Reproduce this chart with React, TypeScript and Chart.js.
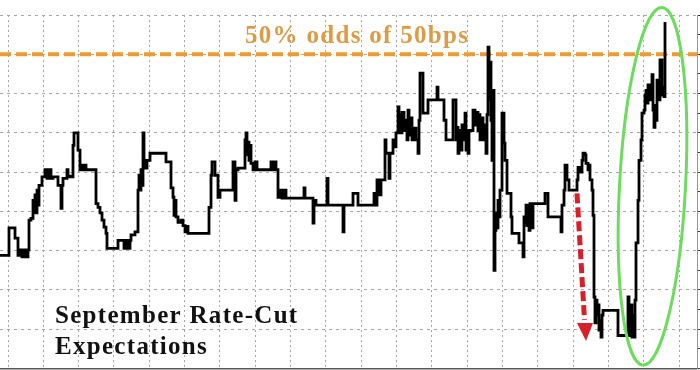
import React, { useEffect, useRef } from "react";
import { Chart, registerables } from "chart.js";

Chart.register(...registerables);

// observation index (intraday samples) at which the odds change
const obs = [
  0, 9, 15, 18, 20, 22, 24, 26, 28, 29, 31, 33, 34, 35, 36, 37, 38, 39, 42, 45,
  47, 49, 51, 53, 58, 61, 62, 63, 67, 68, 70, 73, 74, 77, 78, 80, 82, 84, 85, 86,
  96, 98, 100, 102, 104, 106, 107, 118, 124, 126, 128, 130, 131, 135, 138, 139, 140, 141, 142, 143,
  144, 145, 147, 150, 166, 171, 173, 174, 175, 176, 178, 181, 183, 185, 186, 188, 209, 211, 212, 215,
  218, 220, 233, 235, 236, 238, 245, 246, 247, 248, 249, 250, 251, 253, 255, 257, 271, 273, 274, 276,
  278, 280, 282, 284, 286, 304, 305, 313, 314, 316, 327, 328, 343, 344, 353, 358, 374, 375, 377, 379,
  381, 385, 386, 389, 390, 393, 395, 396, 398, 399, 400, 401, 402, 404, 405, 407, 408, 409, 410, 412,
  414, 416, 418, 419, 420, 423, 428, 437, 438, 444, 446, 453, 456, 457, 458, 459, 461, 462, 463, 465,
  466, 467, 468, 469, 473, 475, 476, 478, 479, 480, 481, 483, 484, 486, 487, 488, 489, 490, 491, 492,
  493, 494, 495, 496, 497, 498, 499, 500, 502, 504, 505, 507, 511, 512, 519, 523, 524, 525, 526, 527,
  528, 529, 530, 532, 533, 545, 548, 561, 562, 564, 565, 567, 569, 577, 578, 580, 582, 583, 585, 586,
  588, 589, 590, 592, 593, 594, 595, 596, 597, 598, 599, 600, 601, 602, 603, 618, 628, 629, 630, 631,
  632, 633, 634, 635, 636, 638, 639, 641, 642, 644, 645, 646, 647, 648, 650, 651, 652, 653, 654, 655,
  656, 657, 659, 660, 662, 663, 664, 665,
];

// odds (%) of a 50bp September cut
const odds = [
  24.4, 27.9, 26.6, 24.4, 25.1, 24.2, 25.1, 24.2, 25.1, 28.9, 29.1, 31.4, 29.9, 32.1, 29.8, 32.7, 30.8, 33.3, 34.4, 35.3,
  34.2, 35.3, 34.2, 34.4, 33.3, 30.4, 33.3, 34.2, 35.3, 34.5, 34.4, 38.4, 40.0, 40.0, 37.8, 35.3, 35.9, 35.3, 35.9, 35.3,
  31.0, 30.5, 29.8, 28.9, 28.0, 27.2, 25.3, 26.3, 25.3, 26.3, 25.3, 26.3, 27.0, 27.4, 32.7, 34.6, 32.7, 35.3, 33.3, 40.0,
  36.5, 35.5, 36.5, 37.4, 36.3, 33.0, 31.8, 29.5, 31.4, 29.3, 28.6, 28.9, 28.2, 27.4, 28.1, 27.2, 30.5, 34.6, 36.3, 34.6,
  31.8, 32.7, 36.3, 31.4, 35.3, 35.5, 39.1, 40.0, 37.2, 38.8, 36.5, 38.4, 36.1, 35.3, 36.3, 35.3, 36.3, 35.3, 36.3, 35.3,
  31.8, 32.7, 31.7, 32.7, 31.7, 33.0, 31.7, 28.5, 31.4, 30.8, 34.2, 30.8, 27.4, 30.8, 32.3, 30.8, 32.3, 30.8, 34.0, 32.1,
  34.0, 39.1, 37.4, 34.2, 37.4, 39.1, 38.2, 40.0, 43.3, 40.0, 42.3, 40.0, 42.6, 40.3, 41.6, 39.1, 42.9, 39.7, 41.9, 39.1,
  40.6, 39.1, 37.4, 41.6, 47.6, 42.5, 44.2, 45.8, 44.2, 41.6, 39.1, 44.2, 39.1, 40.7, 37.4, 40.3, 37.8, 41.0, 39.1, 42.5,
  37.8, 40.3, 37.4, 40.3, 42.9, 41.0, 42.6, 40.3, 42.3, 39.1, 41.9, 39.1, 41.0, 37.4, 42.3, 50.9, 44.2, 49.0, 41.6, 36.5,
  45.4, 22.5, 27.6, 29.8, 27.9, 31.4, 29.3, 32.7, 42.5, 38.7, 36.5, 32.3, 29.3, 27.2, 26.0, 24.2, 29.3, 28.5, 30.8, 28.2,
  30.8, 27.6, 31.0, 27.9, 31.0, 32.3, 29.3, 27.4, 30.8, 32.7, 35.9, 34.0, 32.7, 34.0, 35.6, 35.0, 36.5, 37.4, 37.2, 36.1,
  35.3, 35.9, 34.0, 32.7, 29.5, 19.1, 15.8, 18.7, 16.8, 18.1, 14.9, 16.1, 14.0, 16.8, 17.4, 14.2, 19.1, 16.1, 14.2, 18.1,
  14.0, 16.8, 14.0, 18.7, 26.0, 31.4, 36.5, 39.1, 42.5, 42.9, 44.8, 45.4, 43.8, 46.1, 44.2, 45.4, 47.4, 42.9, 40.7, 43.5,
  41.6, 46.7, 44.2, 49.3, 44.8, 45.8, 44.6, 54.1,
];

const thresholdLevel = 50;
const thresholdLabel = "50% odds of 50bps";
const titleLines = ["September Rate-Cut", "Expectations"];
const yMin = 10;
const yMax = 55;
const yStep = 5;
const obsMin = 0;
const obsMax = 697;
const obsGridStart = 8;
const obsGridStep = 35.33;
const obsGridCount = 20;

export default function App() {
  const ref = useRef<HTMLCanvasElement>(null);

  useEffect(() => {
    document.body.style.margin = "0";
    const canvas = ref.current;
    if (!canvas) return;

    const annotations = {
      id: "annotations",
      afterDatasetsDraw(chart: any) {
        const { ctx } = chart;
        const xs = chart.scales.x;
        const ys = chart.scales.y;
        const px = (v: number) => xs.getPixelForValue(v);
        const py = (v: number) => ys.getPixelForValue(v);
        ctx.save();

        // label of threshold
        ctx.font = 'bold 25px "Liberation Serif"';
        (ctx as any).letterSpacing = "1.3px";
        ctx.fillStyle = "#dd9b45";
        ctx.textBaseline = "alphabetic";
        ctx.textAlign = "left";
        ctx.fillText(thresholdLabel, px(245), py(51.4));

        // title
        ctx.fillStyle = "#111111";
        ctx.fillText(titleLines[0], px(55), py(15.8));
        ctx.fillText(titleLines[1], px(55), py(11.8));
        (ctx as any).letterSpacing = "0px";

        // red dashed arrow
        ctx.strokeStyle = "#d7202a";
        ctx.fillStyle = "#d7202a";
        ctx.lineWidth = 5;
        ctx.setLineDash([10, 4]);
        ctx.beginPath();
        ctx.moveTo(px(577), py(32.3));
        ctx.lineTo(px(584.5), py(16.2));
        ctx.stroke();
        ctx.setLineDash([]);
        ctx.beginPath();
        ctx.moveTo(px(577), py(15.8));
        ctx.lineTo(px(593), py(15.8));
        ctx.lineTo(px(586), py(13.5));
        ctx.closePath();
        ctx.fill();

        // green ellipse
        const cx = px(652.5);
        const cy = py(33.2);
        const ry = Math.abs(py(33.2 + 22.8) - cy);
        const rx = Math.abs(px(652.5 + 33) - cx);
        ctx.strokeStyle = "#6bdc5b";
        ctx.lineWidth = 3;
        ctx.beginPath();
        ctx.ellipse(cx, cy, rx, ry, 0.053, 0, Math.PI * 2);
        ctx.stroke();

        ctx.restore();
      },
    };

    const chart = new Chart(canvas, {
      type: "line",
      data: {
        datasets: [
          {
            label: "Odds",
            data: obs.map((x, i) => ({ x, y: odds[i] })),
            borderColor: "#000000",
            borderWidth: 2.8,
            pointRadius: 0,
            stepped: "before",
            fill: false,
            order: 0,
            clip: false as any,
          },
          {
            label: "Threshold",
            data: [
              { x: obsMin, y: thresholdLevel },
              { x: obsMax, y: thresholdLevel },
            ],
            borderColor: "#eb9a34",
            borderWidth: 4,
            borderDash: [11, 5],
            pointRadius: 0,
            fill: false,
            order: 1,
          },
        ],
      },
      options: {
        responsive: false,
        animation: false,
        events: [],
        layout: { padding: { top: 15, bottom: 1.5, left: 0, right: 0 } },
        plugins: {
          legend: { display: false },
          tooltip: { enabled: false },
          title: { display: false },
        },
        scales: {
          x: {
            type: "linear",
            min: obsMin,
            max: obsMax,
            afterBuildTicks: (scale: any) => {
              scale.ticks = Array.from({ length: obsGridCount }, (_, k) => ({
                value: obsGridStart + obsGridStep * k,
              }));
            },
            ticks: { display: false },
            grid: { color: "#a6a6a6", lineWidth: 1, drawTicks: false },
            border: { display: true, color: "#555555", width: 1.5, dash: [2, 3] },
          },
          y: {
            type: "linear",
            position: "left",
            min: yMin,
            max: yMax,
            ticks: { display: false, stepSize: yStep },
            grid: { color: "#a6a6a6", lineWidth: 1, drawTicks: false },
            border: { display: false, dash: [3, 4] },
          },
          y2: {
            type: "linear",
            position: "right",
            min: yMin,
            max: yMax,
            ticks: { display: false, stepSize: yStep / 2 },
            grid: { drawOnChartArea: false, drawTicks: true, tickLength: 3, color: "#333333" },
            border: { display: true, color: "#999999", width: 1 },
          },
        },
      },
      plugins: [annotations],
    });

    return () => chart.destroy();
  }, []);

  return (
    <div style={{ position: "absolute", left: 0, top: 0, width: 700, height: 370 }}>
      <canvas ref={ref} width={700} height={370} style={{ display: "block" }} />
    </div>
  );
}
